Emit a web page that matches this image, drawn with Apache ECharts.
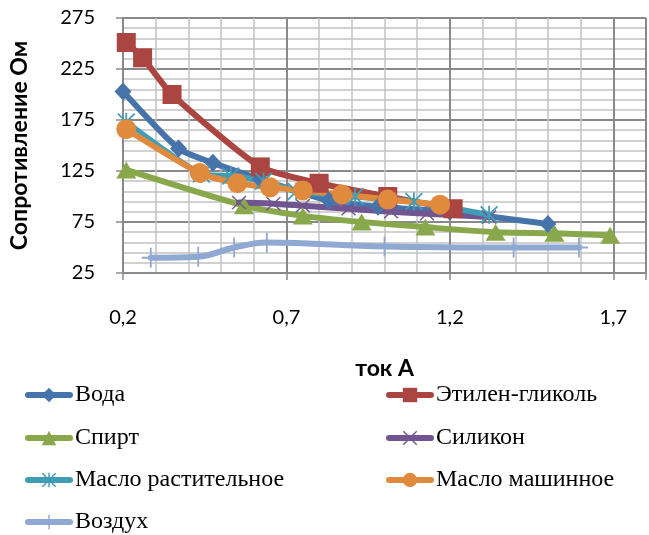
<!DOCTYPE html>
<html>
<head>
<meta charset="utf-8">
<script src="https://cdn.jsdelivr.net/npm/echarts@6/dist/echarts.min.js"></script>
<style>
  html, body { margin: 0; padding: 0; background: #fff; }
  #chart { width: 649px; height: 535px; }
</style>
</head>
<body>
<div id="chart"></div>
<script>
// Ток (А) и сопротивление (Ом) для каждой среды
const vodaI = [0.20, 0.37, 0.475, 0.62, 0.83, 0.98, 1.20, 1.50];
const vodaR = [203, 147, 133, 117, 96, 90, 85, 73];

const glikolI = [0.21, 0.26, 0.35, 0.62, 0.80, 1.01, 1.21];
const glikolR = [251, 236, 200, 129, 113, 100, 88];

const spirtI = [0.21, 0.57, 0.75, 0.93, 1.125, 1.34, 1.52, 1.69];
const spirtR = [126, 91, 81, 75, 70, 65, 64, 62];

const silikonI = [0.555, 0.66, 0.75, 0.89, 1.02, 1.13, 1.32];
const silikonR = [94, 93, 91, 88, 85, 83, 80];

const maslRastI = [0.21, 0.44, 0.53, 0.63, 0.73, 0.91, 1.09, 1.32];
const maslRastR = [173, 122, 120, 115, 105, 100, 95, 82];

const maslMashI = [0.21, 0.435, 0.55, 0.65, 0.75, 0.87, 1.01, 1.17];
const maslMashR = [166, 123, 113, 109, 106, 102, 97, 92];

const vozduhI = [0.285, 0.43, 0.54, 0.64, 1.00, 1.395, 1.595];
const vozduhR = [40, 41, 50, 55, 51, 50, 50];

// Подписи делений осей
const xTickLabels = ['0,2', '0,7', '1,2', '1,7'];
const yTickLabels = ['25', '75', '125', '175', '225', '275'];

// Маркеры, которых нет среди стандартных
const SYM_X = 'path://M0 1.4L1.4 0L20 18.6L18.6 20ZM18.6 0L20 1.4L1.4 20L0 18.6Z';
const SYM_STAR = 'path://M0 1.4L1.4 0L20 18.6L18.6 20ZM18.6 0L20 1.4L1.4 20L0 18.6ZM9 0L11 0L11 20L9 20Z';
const SYM_PLUS = 'path://M9 0L11 0L11 20L9 20ZM0 9L20 9L20 11L0 11Z';

const pairs = (xs, ys) => xs.map((x, i) => [x, ys[i]]);

const MAJOR = '#898989';
const MINOR = '#c2c2c2';
const AXIS_FONT = 'Lato, "Open Sans", sans-serif';

function makeSeries(name, xs, ys, color, symbol, size, smooth) {
  return {
    name: name,
    type: 'line',
    xAxisIndex: 0,
    yAxisIndex: 0,
    data: pairs(xs, ys),
    smooth: smooth,
    symbol: symbol,
    symbolSize: size,
    showAllSymbol: true,
    lineStyle: { color: color, width: 6, cap: 'round', join: 'round' },
    itemStyle: { color: color, borderColor: color, borderWidth: 0 },
    emphasis: { disabled: true }
  };
}

const series = [
  makeSeries('Вода', vodaI, vodaR, '#4674AA', 'diamond', [17, 18], 0.2),
  makeSeries('Этилен-гликоль', glikolI, glikolR, '#AB4542', 'rect', 19, 0.2),
  makeSeries('Спирт', spirtI, spirtR, '#89A84B', 'triangle', [20, 17], 0.2),
  makeSeries('Силикон', silikonI, silikonR, '#715591', SYM_X, [15, 14], 0.2),
  makeSeries('Масло растительное', maslRastI, maslRastR, '#3F9DB6', SYM_STAR, [18, 18], 0.2),
  makeSeries('Масло машинное', maslMashI, maslMashR, '#E08A3E', 'circle', 20, 0.2),
  makeSeries('Воздух', vozduhI, vozduhR, '#8FA9D3', SYM_PLUS, [18, 20], 0.4)
];

// Легенда в две колонки: по одному элементу на компонент
const legendPlaces = [
  ['Вода', 25, 383], ['Этилен-гликоль', 386, 383],
  ['Спирт', 25, 426], ['Силикон', 386, 426],
  ['Масло растительное', 25, 468], ['Масло машинное', 386, 468],
  ['Воздух', 25, 510]
];
const legends = legendPlaces.map(function (p) {
  return {
    data: [p[0]],
    left: p[1], top: p[2],
    padding: 0,
    itemWidth: 42, itemHeight: 18,
    lineStyle: { width: 6 },
    selectedMode: false,
    textStyle: {
      fontFamily: '"Liberation Serif", "Times New Roman", serif',
      fontSize: 24, lineHeight: 24, color: '#000'
    }
  };
});

const option = {
  animation: false,
  backgroundColor: '#fff',
  grid: { left: 120, top: 18, width: 531, height: 255, containLabel: false },
  xAxis: [
    {
      type: 'value', min: 0.2, max: 1.8, interval: 0.1,
      axisLine: { show: true, lineStyle: { color: MAJOR, width: 2 } },
      axisTick: { show: false },
      axisLabel: { show: false },
      splitLine: { show: true, lineStyle: { color: MINOR, width: 1.5 } }
    },
    {
      type: 'value', min: 0.2, max: 1.8, interval: 0.5, position: 'bottom',
      axisLine: { show: false },
      axisTick: { show: true, length: 7, lineStyle: { color: MAJOR, width: 1.5 } },
      axisLabel: {
        show: true, margin: 35, color: '#000',
        fontFamily: AXIS_FONT, fontSize: 20,
        formatter: function (v) {
          const k = Math.round((v - 0.2) / 0.5);
          return Math.abs(v - (0.2 + k * 0.5)) < 1e-6 && xTickLabels[k] ? xTickLabels[k] : '';
        }
      },
      splitLine: { show: true, lineStyle: { color: MAJOR, width: 2 } },
      name: 'ток А',
      nameLocation: 'middle',
      nameGap: 84,
      nameTextStyle: { fontFamily: AXIS_FONT, fontSize: 23, fontWeight: 'bold', color: '#000' }
    }
  ],
  yAxis: [
    {
      type: 'value', min: 25, max: 275, interval: 10,
      axisLine: { show: true, lineStyle: { color: MAJOR, width: 2 } },
      axisTick: { show: false },
      axisLabel: { show: false },
      splitLine: { show: true, lineStyle: { color: MINOR, width: 1.5 } }
    },
    {
      type: 'value', min: 25, max: 275, interval: 50, position: 'left',
      axisLine: { show: false },
      axisTick: { show: true, length: 7, lineStyle: { color: MAJOR, width: 1.5 } },
      axisLabel: {
        show: true, margin: 28, color: '#000',
        fontFamily: AXIS_FONT, fontSize: 20,
        formatter: function (v) {
          const k = Math.round((v - 25) / 50);
          return yTickLabels[k] !== undefined ? yTickLabels[k] : '';
        }
      },
      splitLine: { show: true, lineStyle: { color: MAJOR, width: 2 } },
      name: 'Сопротивление Ом',
      nameLocation: 'middle',
      nameGap: 92,
      nameTextStyle: { fontFamily: AXIS_FONT, fontSize: 23, fontWeight: 'bold', color: '#000' }
    }
  ],
  legend: legends,
  series: series
};

const chart = echarts.init(document.getElementById('chart'), null, { renderer: 'canvas' });
chart.setOption(option);
</script>
</body>
</html>
